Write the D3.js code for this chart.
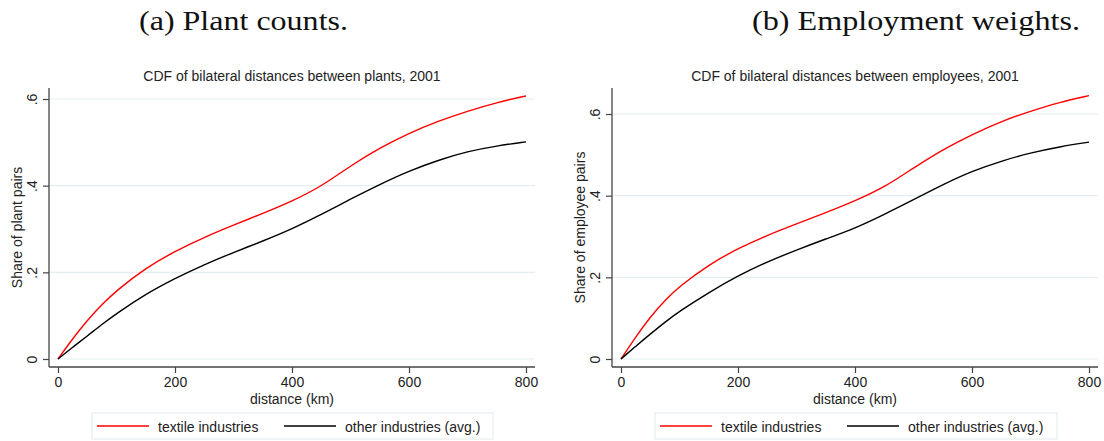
<!DOCTYPE html>
<html><head><meta charset="utf-8">
<script src="https://cdn.jsdelivr.net/npm/d3@7"></script>
<style>body{margin:0;background:#fff}</style>
</head><body>
<svg id="chart" width="1104" height="441"></svg>
<script>
// ---- data ----
const distanceKm      = [0, 25, 50, 75, 100, 150, 200, 250, 300, 350, 400, 450, 500, 550, 600, 650, 700, 750, 800];
const plantTextile    = [0, 0.047, 0.089, 0.126, 0.158, 0.210, 0.249, 0.281, 0.309, 0.336, 0.364, 0.398, 0.446, 0.487, 0.521, 0.549, 0.572, 0.592, 0.607];
const plantOther      = [0, 0.027, 0.053, 0.080, 0.105, 0.150, 0.186, 0.218, 0.246, 0.272, 0.300, 0.333, 0.369, 0.403, 0.434, 0.459, 0.479, 0.492, 0.501];
const employeeTextile = [0, 0.054, 0.103, 0.144, 0.178, 0.231, 0.271, 0.303, 0.331, 0.358, 0.387, 0.420, 0.468, 0.513, 0.550, 0.582, 0.607, 0.629, 0.645];
const employeeOther   = [0, 0.031, 0.061, 0.090, 0.117, 0.163, 0.204, 0.238, 0.267, 0.294, 0.320, 0.354, 0.390, 0.427, 0.460, 0.485, 0.505, 0.520, 0.531];
const xTicks = [0, 200, 400, 600, 800];
const yTicks = [0, 0.2, 0.4, 0.6];
const yTickLabels = ["0", ".2", ".4", ".6"];
const seriesNames = ["textile industries", "other industries (avg.)"];
const seriesColors = ["#ff0000", "#000000"];
const panelHeaders = ["(a) Plant counts.", "(b) Employment weights."];
const panelTitles = ["CDF of bilateral distances between plants, 2001", "CDF of bilateral distances between employees, 2001"];
const yAxisTitles = ["Share of plant pairs", "Share of employee pairs"];
const xAxisTitle = "distance (km)";

// ---- layout ----
const panels = [
  {series: [plantTextile, plantOther], axisX: 49, xStart: 58, xEnd: 526, axisEnd: 535, y0: 359, yTop: 99,
   headerX: 139, headerW: 209, legendX: 92, legendW: 401},
  {series: [employeeTextile, employeeOther], axisX: 612, xStart: 621, xEnd: 1089, axisEnd: 1098, y0: 359, yTop: 114,
   headerX: 752, headerW: 328, legendX: 655, legendW: 402}
];
const axisY = 367, axisTop = 88;
const sans = "'Liberation Sans', Arial, Helvetica, sans-serif";
const svg = d3.select("#chart");
svg.append("rect").attr("width", 1104).attr("height", 441).attr("fill", "#fff");

panels.forEach((p, i) => {
  const g = svg.append("g");
  const x = d3.scaleLinear().domain([0, 800]).range([p.xStart, p.xEnd]);
  const y = d3.scaleLinear().domain([0, 0.6]).range([p.y0, p.yTop]);

  // header
  g.append("text").attr("x", p.headerX).attr("y", 30)
    .attr("font-family", "'Liberation Serif', 'DejaVu Serif', serif").attr("font-size", 27)
    .attr("textLength", p.headerW).attr("lengthAdjust", "spacingAndGlyphs")
    .attr("fill", "#111").text(panelHeaders[i]);

  // title
  g.append("text").attr("x", (p.axisX + p.axisEnd) / 2).attr("y", 81)
    .attr("text-anchor", "middle").attr("font-family", sans).attr("font-size", 14)
    .attr("fill", "#222").text(panelTitles[i]);

  // gridlines
  g.selectAll(".grid").data(yTicks).join("line")
    .attr("x1", p.axisX + 1).attr("x2", p.axisEnd)
    .attr("y1", d => y(d)).attr("y2", d => y(d))
    .attr("stroke", "#e4edf0").attr("stroke-width", 1.2);

  // y axis
  const yAxis = d3.axisLeft(y).tickValues(yTicks).tickSize(6).tickFormat((d, k) => yTickLabels[k]);
  const ya = g.append("g").attr("transform", `translate(${p.axisX},0)`).call(yAxis);
  ya.select(".domain").remove();
  ya.selectAll(".tick line").attr("stroke", "#444").attr("stroke-width", 1.2);
  ya.selectAll(".tick text").attr("x", null).attr("dy", null)
    .attr("transform", "translate(-12,0) rotate(-90)")
    .attr("text-anchor", "middle").attr("font-family", sans).attr("font-size", 14).attr("fill", "#222");
  g.append("line").attr("x1", p.axisX).attr("x2", p.axisX).attr("y1", axisTop).attr("y2", axisY)
    .attr("stroke", "#444").attr("stroke-width", 1.3);

  // x axis
  const xAxis = d3.axisBottom(x).tickValues(xTicks).tickSize(6).tickFormat(d3.format("d"));
  const xa = g.append("g").attr("transform", `translate(0,${axisY})`).call(xAxis);
  xa.select(".domain").remove();
  xa.selectAll(".tick line").attr("stroke", "#444").attr("stroke-width", 1.2);
  xa.selectAll(".tick text").attr("y", 19.5).attr("dy", null)
    .attr("font-family", sans).attr("font-size", 14).attr("fill", "#222");
  g.append("line").attr("x1", p.axisX).attr("x2", p.axisEnd).attr("y1", axisY).attr("y2", axisY)
    .attr("stroke", "#444").attr("stroke-width", 1.3);

  // axis titles
  g.append("text").attr("transform", `translate(${p.axisX - 27},${(axisTop + axisY) / 2}) rotate(-90)`)
    .attr("text-anchor", "middle").attr("font-family", sans).attr("font-size", 14).attr("fill", "#222")
    .text(yAxisTitles[i]);
  g.append("text").attr("x", (p.axisX + p.axisEnd) / 2).attr("y", 403.5)
    .attr("text-anchor", "middle").attr("font-family", sans).attr("font-size", 14).attr("fill", "#222")
    .text(xAxisTitle);

  // lines
  const line = d3.line().x((d, k) => x(distanceKm[k])).y(d => y(d)).curve(d3.curveBasis);
  p.series.forEach((s, k) => {
    g.append("path").datum(s).attr("d", line).attr("fill", "none")
      .attr("stroke", seriesColors[k]).attr("stroke-width", 1.4);
  });

  // legend
  const lg = g.append("g").attr("transform", `translate(${p.legendX},413)`);
  lg.append("rect").attr("width", p.legendW).attr("height", 26).attr("fill", "#fff")
    .attr("stroke", "#e2eaed").attr("stroke-width", 1);
  const itemOffsets = [5, 192];
  seriesNames.forEach((name, k) => {
    lg.append("line").attr("x1", itemOffsets[k]).attr("x2", itemOffsets[k] + 52)
      .attr("y1", 13).attr("y2", 13).attr("stroke", seriesColors[k]).attr("stroke-width", 1.4);
    lg.append("text").attr("x", itemOffsets[k] + 61).attr("y", 19)
      .attr("font-family", sans).attr("font-size", 14).attr("fill", "#222").text(name);
  });
});
</script>
</body></html>
